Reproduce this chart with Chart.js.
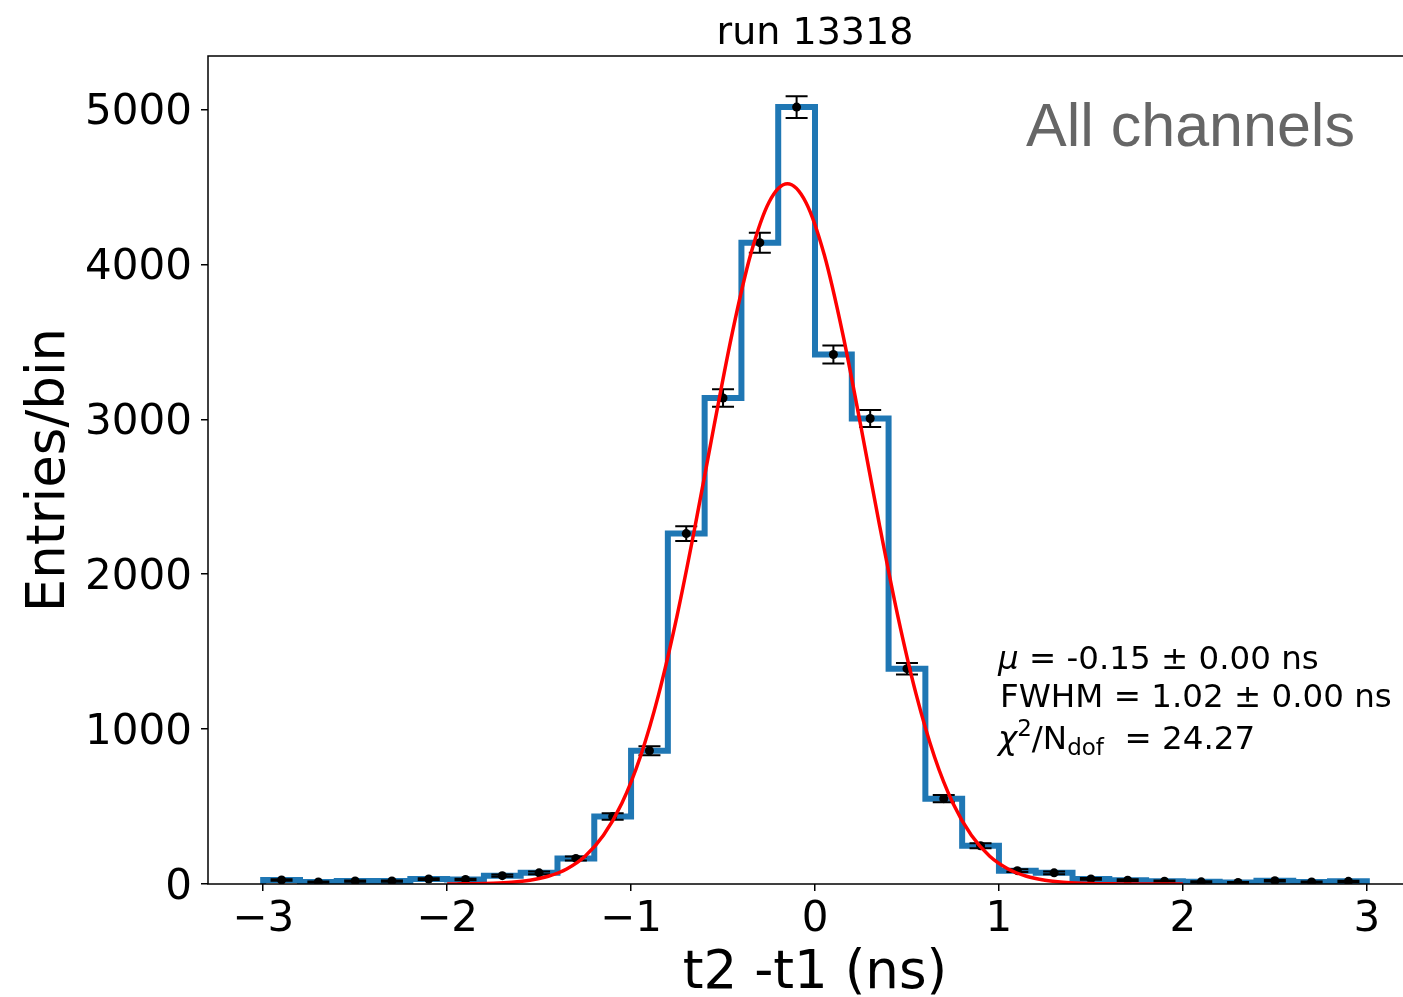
<!DOCTYPE html>
<html><head><meta charset="utf-8">
<script src="https://cdn.jsdelivr.net/npm/chart.js@4.4.0/dist/chart.umd.min.js"></script>
<style>
html,body{margin:0;padding:0;overflow:hidden;background:#fff;width:1403px;height:997px}
#wrap{position:absolute;left:0;top:0;width:1430px;height:997px}
</style></head>
<body><div id="wrap"><canvas id="c" width="1430" height="997"></canvas></div>
<script>
// ---- data ----
const binCenters = [-2.9,-2.7,-2.5,-2.3,-2.1,-1.9,-1.7,-1.5,-1.3,-1.1,-0.9,-0.7,-0.5,-0.3,-0.1,0.1,0.3,0.5,0.7,0.9,1.1,1.3,1.5,1.7,1.9,2.1,2.3,2.5,2.7,2.9];
const binWidth = 0.2;
const counts = [26,13,19,19,32,29,54,72,165,436,860,2262,3137,4140,5015,3418,3005,1390,551,247,86,72,33,25,18,14,10,21,13,17];
const countErrors = [5.1,3.6,4.4,4.4,5.7,5.4,7.3,8.5,12.8,20.9,29.3,47.6,56.0,64.3,70.8,58.5,54.8,37.3,23.5,15.7,9.3,8.5,5.7,5.0,4.2,3.7,3.2,4.6,3.6,4.1];
const fitX = [-2.0,-1.95,-1.85,-1.75,-1.65,-1.55,-1.45,-1.35,-1.25,-1.15,-1.05,-0.95,-0.85,-0.75,-0.65,-0.55,-0.45,-0.35,-0.25,-0.15,-0.05,0.05,0.15,0.25,0.35,0.45,0.55,0.65,0.75,0.85,0.95,1.05,1.15,1.25,1.35,1.45,1.55,1.65,1.75,1.85,1.95,2.0];
const fitY = [0.5,0.8,2.0,4.9,11.2,24.3,50,97,179,314,521,820,1224,1731,2321,2950,3556,4063,4401,4520,4401,4063,3556,2950,2321,1731,1224,820,521,314,179,97,50,24.3,11.2,4.9,2.0,0.8,0.3,0.1,0.04,0.02];
const xTicks = [-3,-2,-1,0,1,2,3];
const yTicks = [0,1000,2000,3000,4000,5000];
const titleText = 'run 13318';
const xLabel = 't2 -t1 (ns)';
const yLabel = 'Entries/bin';
const panelText = 'All channels';

// step outline: each bin's value starts at its left edge and is held to the next edge
const stepPts = [{x: binCenters[0]-binWidth/2, y: 0}];
binCenters.forEach((c,i)=>stepPts.push({x: c-binWidth/2, y: counts[i]}));
stepPts.push({x: binCenters[binCenters.length-1]+binWidth/2, y: 0});

const FONT = '"DejaVu Sans", sans-serif';
const fmt = v => v < 0 ? '\u2212' + Math.abs(v) : String(v);

function drawRuns(ctx, x, y, runs){
  let cx = x;
  for (const r of runs){
    ctx.font = r.font;
    ctx.fillText(r.t, cx, y + (r.dy||0));
    cx += ctx.measureText(r.t).width + (r.gap||0);
  }
}

const overlay = {
  id:'overlay',
  afterDatasetDraw(chart, args){
    if (args.index !== 1) return;
    const {ctx, scales:{x,y}} = chart;
    ctx.save();
    ctx.strokeStyle = '#000'; ctx.lineWidth = 2;
    binCenters.forEach((c,i)=>{
      const px = x.getPixelForValue(c);
      const t = y.getPixelForValue(counts[i]+countErrors[i]);
      const b = y.getPixelForValue(counts[i]-countErrors[i]);
      ctx.beginPath();
      ctx.moveTo(px,t); ctx.lineTo(px,b);
      ctx.moveTo(px-11,t); ctx.lineTo(px+11,t);
      ctx.moveTo(px-11,b); ctx.lineTo(px+11,b);
      ctx.stroke();
    });
    ctx.restore();
  },
  afterDraw(chart){
    const {ctx, chartArea:a} = chart;
    ctx.save();
    ctx.strokeStyle = '#000'; ctx.lineWidth = 1.5;
    ctx.strokeRect(a.left, a.top, a.right-a.left, a.bottom-a.top);
    ctx.fillStyle = '#000';
    // title
    ctx.textAlign = 'center'; ctx.textBaseline = 'alphabetic';
    ctx.font = '38px ' + FONT;
    ctx.fillText(titleText, (a.left+a.right)/2, 44);
    // x label
    ctx.font = '53px ' + FONT;
    ctx.fillText(xLabel, (a.left+a.right)/2, 988);
    // y label
    ctx.save();
    ctx.translate(64, (a.top+a.bottom)/2);
    ctx.rotate(-Math.PI/2);
    ctx.fillText(yLabel, 0, 0);
    ctx.restore();
    // panel text
    ctx.textAlign = 'left';
    ctx.fillStyle = '#666666';
    ctx.font = '61px "Liberation Sans", Arial, sans-serif';
    ctx.fillText(panelText, 1026, 146);
    // stats
    ctx.fillStyle = '#000';
    const N = '32.5px ' + FONT, I = 'italic 32.5px ' + FONT, S = '23px ' + FONT;
    drawRuns(ctx, 998, 669, [{t:'\u03bc', font:I}, {t:' = -0.15 \u00b1 0.00 ns', font:N}]);
    drawRuns(ctx, 1000, 707, [{t:'FWHM = 1.02 \u00b1 0.00 ns', font:N}]);
    drawRuns(ctx, 998, 749, [{t:'\u03c7', font:I}, {t:'2', font:S, dy:-13}, {t:'/N', font:N}, {t:'dof', font:S, dy:6}, {t:'  = 24.27', font:N}]);
    ctx.restore();
  }
};

const tickFont = {family:'DejaVu Sans', size:42};
new Chart(document.getElementById('c'), {
  type:'line',
  data:{datasets:[
    {type:'line', label:'fit', data: fitX.map((v,i)=>({x:v, y:fitY[i]})), borderColor:'#ff0000', borderWidth:3.5, pointRadius:0, cubicInterpolationMode:'monotone', fill:false, order:0},
    {type:'scatter', label:'data', data: binCenters.map((c,i)=>({x:c, y:counts[i]})), pointRadius:4.5, pointBackgroundColor:'#000', pointBorderColor:'#000', pointBorderWidth:0, showLine:false, order:1},
    {type:'line', label:'hist', data: stepPts, stepped:'before', borderColor:'#1f77b4', borderWidth:6, pointRadius:0, fill:false, borderJoinStyle:'miter', borderCapStyle:'butt', order:2}
  ]},
  options:{
    responsive:false, animation:false, events:[],
    layout:{padding:{left:0, top:56, right:8, bottom:0}},
    plugins:{legend:{display:false}, tooltip:{enabled:false}, title:{display:false}},
    scales:{
      x:{type:'linear', min:-3.3, max:3.3,
        afterFit(s){ s.height = 113; },
        afterBuildTicks(s){ s.ticks = xTicks.map(v=>({value:v})); },
        grid:{display:true, drawOnChartArea:false, drawTicks:true, tickLength:7, color:'#000', lineWidth:1.5},
        border:{display:false},
        ticks:{font:tickFont, color:'#000', padding:4, maxRotation:0, autoSkip:false, callback:v=>fmt(v)}},
      y:{type:'linear', min:0, max:5345,
        afterFit(s){ s.width = 208; },
        afterBuildTicks(s){ s.ticks = yTicks.map(v=>({value:v})); },
        grid:{display:true, drawOnChartArea:false, drawTicks:true, tickLength:7, color:'#000', lineWidth:1.5},
        border:{display:false},
        ticks:{font:tickFont, color:'#000', padding:9, labelOffset:4, autoSkip:false, callback:v=>fmt(v)}}
    }
  },
  plugins:[overlay]
});
</script>
</body></html>
